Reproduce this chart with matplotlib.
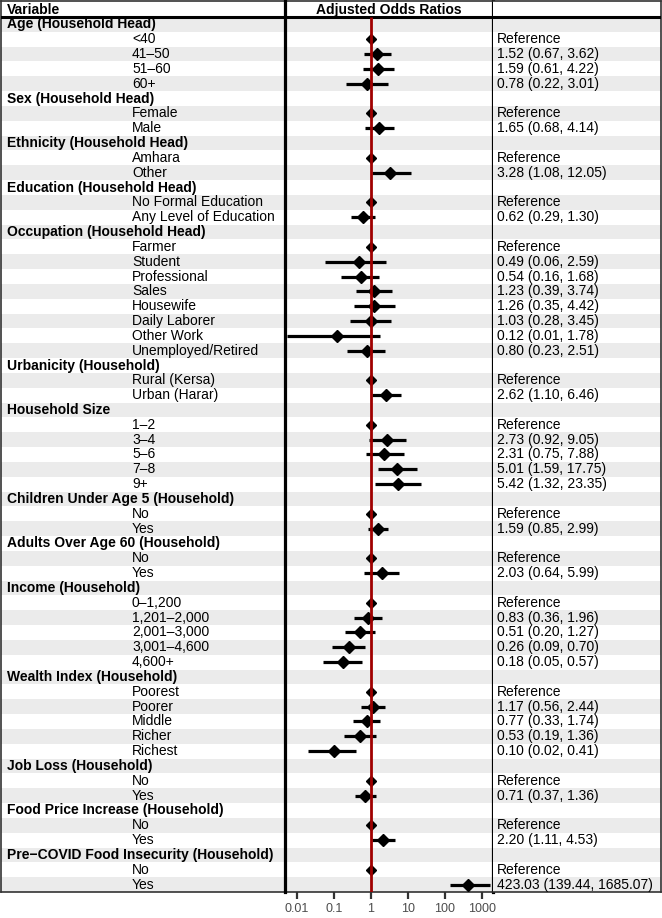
import matplotlib.pyplot as plt
from matplotlib import transforms

plt.rcParams['font.family'] = ['Liberation Sans', 'DejaVu Sans']

# variable groups and their levels (None = reference level)
group_names = [
    "Age (Household Head)", "Sex (Household Head)", "Ethnicity (Household Head)",
    "Education (Household Head)", "Occupation (Household Head)", "Urbanicity (Household)",
    "Household Size", "Children Under Age 5 (Household)", "Adults Over Age 60 (Household)",
    "Income (Household)", "Wealth Index (Household)", "Job Loss (Household)",
    "Food Price Increase (Household)", "Pre\u2212COVID Food Insecurity (Household)",
]
group_levels = [
    ["<40", "41\u201350", "51\u201360", "60+"],
    ["Female", "Male"],
    ["Amhara", "Other"],
    ["No Formal Education", "Any Level of Education"],
    ["Farmer", "Student", "Professional", "Sales", "Housewife", "Daily Laborer",
     "Other Work", "Unemployed/Retired"],
    ["Rural (Kersa)", "Urban (Harar)"],
    ["1\u20132", "3\u20134", "5\u20136", "7\u20138", "9+"],
    ["No", "Yes"],
    ["No", "Yes"],
    ["0\u20131,200", "1,201\u20132,000", "2,001\u20133,000", "3,001\u20134,600", "4,600+"],
    ["Poorest", "Poorer", "Middle", "Richer", "Richest"],
    ["No", "Yes"],
    ["No", "Yes"],
    ["No", "Yes"],
]
odds_ratio = [
    [None, 1.52, 1.59, 0.78],
    [None, 1.65],
    [None, 3.28],
    [None, 0.62],
    [None, 0.49, 0.54, 1.23, 1.26, 1.03, 0.12, 0.80],
    [None, 2.62],
    [None, 2.73, 2.31, 5.01, 5.42],
    [None, 1.59],
    [None, 2.03],
    [None, 0.83, 0.51, 0.26, 0.18],
    [None, 1.17, 0.77, 0.53, 0.10],
    [None, 0.71],
    [None, 2.20],
    [None, 423.03],
]
ci_lower = [
    [None, 0.67, 0.61, 0.22],
    [None, 0.68],
    [None, 1.08],
    [None, 0.29],
    [None, 0.06, 0.16, 0.39, 0.35, 0.28, 0.0055, 0.23],
    [None, 1.10],
    [None, 0.92, 0.75, 1.59, 1.32],
    [None, 0.85],
    [None, 0.64],
    [None, 0.36, 0.20, 0.09, 0.05],
    [None, 0.56, 0.33, 0.19, 0.02],
    [None, 0.37],
    [None, 1.11],
    [None, 139.44],
]
ci_upper = [
    [None, 3.62, 4.22, 3.01],
    [None, 4.14],
    [None, 12.05],
    [None, 1.30],
    [None, 2.59, 1.68, 3.74, 4.42, 3.45, 1.78, 2.51],
    [None, 6.46],
    [None, 9.05, 7.88, 17.75, 23.35],
    [None, 2.99],
    [None, 5.99],
    [None, 1.96, 1.27, 0.70, 0.57],
    [None, 2.44, 1.74, 1.36, 0.41],
    [None, 1.36],
    [None, 4.53],
    [None, 1685.07],
]
tick_values = [0.01, 0.1, 1, 10, 100, 1000]
tick_labels = ["0.01", "0.1", "1", "10", "100", "1000"]

rows = []
for g, levels, ors, los, his in zip(group_names, group_levels, odds_ratio, ci_lower, ci_upper):
    rows.append((g, True, None, None, None))
    for lv, o, lo, hi in zip(levels, ors, los, his):
        rows.append((lv, False, o, lo, hi))
n = len(rows)

W, H = 662, 918
fig = plt.figure(figsize=(W / 100, H / 100), dpi=100)
top_px, bot_px, head_px = 1, 892, 16
row_px = (bot_px - top_px - head_px) / n
y_top = -0.5 - head_px / row_px


def px_axes(x0, x1):
    return fig.add_axes([x0 / W, (H - bot_px) / H, (x1 - x0) / W, (bot_px - top_px) / H])


ax_l = px_axes(1, 285)
ax_m = px_axes(285, 493)
ax_r = px_axes(493, 661)

border = '#333333'
for ax in (ax_l, ax_m, ax_r):
    ax.set_ylim(n - 0.5, y_top)
    for i in range(0, n, 2):
        ax.axhspan(i - 0.5, i + 0.5, color='#EBEBEB', lw=0, zorder=0)
    ax.axhline(-0.5, color='black', lw=2.2, zorder=4)
    ax.set_yticks([])
    for s in ('top', 'bottom', 'left', 'right'):
        ax.spines[s].set_color(border)
        ax.spines[s].set_linewidth(1.2)

ax_l.set_xlim(0, 284)
ax_l.set_xticks([])
ax_l.spines['right'].set_visible(False)
ax_r.set_xlim(0, 168)
ax_r.set_xticks([])
ax_r.spines['left'].set_visible(False)
for s in ('left', 'right'):
    ax_m.spines[s].set_color('black')
    ax_m.spines[s].set_linewidth(2.3)
    ax_m.spines[s].set_zorder(5)

fs = 10
head_y = -1.0
ax_l.text(6, head_y, "Variable", fontsize=fs, fontweight='bold', va='center')
tr = transforms.blended_transform_factory(ax_m.transAxes, ax_m.transData)
ax_m.text(0.5, head_y, "Adjusted Odds Ratios", fontsize=fs, fontweight='bold',
          ha='center', va='center', transform=tr)

ax_m.set_xscale('log')
ax_m.set_xlim(10 ** -2.316, 10 ** 3.305)
ax_m.set_xticks(tick_values)
ax_m.set_xticklabels(tick_labels)
ax_m.minorticks_off()
ax_m.tick_params(axis='x', direction='out', length=5, width=1.6, color=border,
                 labelsize=9, labelcolor='#4D4D4D', pad=3)

for i, (label, is_head, o, lo, hi) in enumerate(rows):
    if is_head:
        ax_l.text(6, i, label, fontsize=fs, fontweight='bold', va='center')
        continue
    ax_l.text(131, i, label, fontsize=fs, va='center')
    if o is None:
        ax_m.plot(1, i, 'D', color='black', ms=5, zorder=3)
        ax_r.text(4, i, "Reference", fontsize=fs, va='center')
    else:
        ax_m.hlines(i, lo, hi, color='black', lw=2.3, zorder=2)
        ax_m.plot(o, i, 'D', color='black', ms=6, zorder=3)
        ax_r.text(4, i, f"{o:.2f} ({lo:.2f}, {hi:.2f})", fontsize=fs, va='center')

ax_m.vlines(1, -0.5, n - 0.5, color='#A00000', lw=2, zorder=4)

fig.savefig('out.png', dpi=100)
